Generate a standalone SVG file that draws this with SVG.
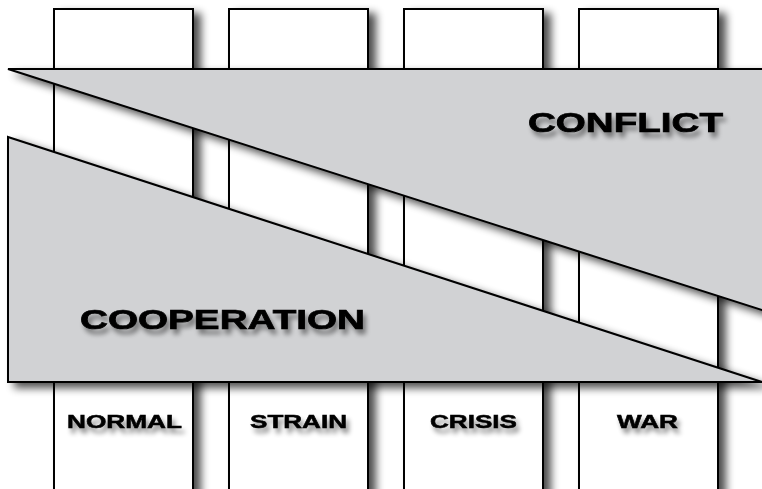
<svg xmlns="http://www.w3.org/2000/svg" width="762" height="489" viewBox="0 0 762 489">
<defs>
<style>
.col{fill:#ffffff;stroke:#000000;stroke-width:2}
.tri{fill:#d1d2d4;stroke:#000000;stroke-width:2;stroke-linejoin:miter}
.big{font-family:"Liberation Sans",Arial,Helvetica,sans-serif;font-weight:bold;font-size:27px;fill:#000000;stroke:#000000;stroke-width:0.7}
.small{font-family:"Liberation Sans",Arial,Helvetica,sans-serif;font-weight:bold;font-size:18px;fill:#000000;stroke:#000000;stroke-width:0.5}
</style>
<filter id="shadow" x="-20%" y="-20%" width="150%" height="150%">
<feGaussianBlur in="SourceAlpha" stdDeviation="4.5"/>
<feOffset dx="7" dy="5" result="b"/>
<feComponentTransfer><feFuncA type="linear" slope="0.7"/></feComponentTransfer>
<feMerge><feMergeNode/><feMergeNode in="SourceGraphic"/></feMerge>
</filter>
<filter id="tshadow" x="-20%" y="-50%" width="140%" height="250%">
<feGaussianBlur in="SourceAlpha" stdDeviation="2.5"/>
<feOffset dx="3" dy="5" result="b"/>
<feComponentTransfer><feFuncA type="linear" slope="0.45"/></feComponentTransfer>
<feMerge><feMergeNode/><feMergeNode in="SourceGraphic"/></feMerge>
</filter>
</defs>
<rect x="0" y="0" width="762" height="489" fill="#ffffff"/>
<g id="columns">
<g id="col-normal"><rect class="col" x="54" y="9" width="139" height="500" filter="url(#shadow)"/></g>
<g id="col-strain"><rect class="col" x="229" y="9" width="139" height="500" filter="url(#shadow)"/></g>
<g id="col-crisis"><rect class="col" x="404" y="9" width="139" height="500" filter="url(#shadow)"/></g>
<g id="col-war"><rect class="col" x="579" y="9" width="139" height="500" filter="url(#shadow)"/></g>
</g>
<g id="cooperation">
<polygon class="tri" points="8,137 762,382 8,382" filter="url(#shadow)"/>
<text class="big" x="80" y="329" textLength="285" lengthAdjust="spacingAndGlyphs" filter="url(#tshadow)">COOPERATION</text>
</g>
<g id="conflict">
<polygon class="tri" points="8,69 790,69 790,319" filter="url(#shadow)"/>
<text class="big" x="528" y="132" textLength="195" lengthAdjust="spacingAndGlyphs" filter="url(#tshadow)">CONFLICT</text>
</g>
<g id="labels">
<text class="small" x="67" y="428" textLength="115" lengthAdjust="spacingAndGlyphs" filter="url(#tshadow)">NORMAL</text>
<text class="small" x="250" y="428" textLength="97" lengthAdjust="spacingAndGlyphs" filter="url(#tshadow)">STRAIN</text>
<text class="small" x="430" y="428" textLength="87" lengthAdjust="spacingAndGlyphs" filter="url(#tshadow)">CRISIS</text>
<text class="small" x="617" y="428" textLength="61" lengthAdjust="spacingAndGlyphs" filter="url(#tshadow)">WAR</text>
</g>
<g id="connectors"></g>
</svg>
